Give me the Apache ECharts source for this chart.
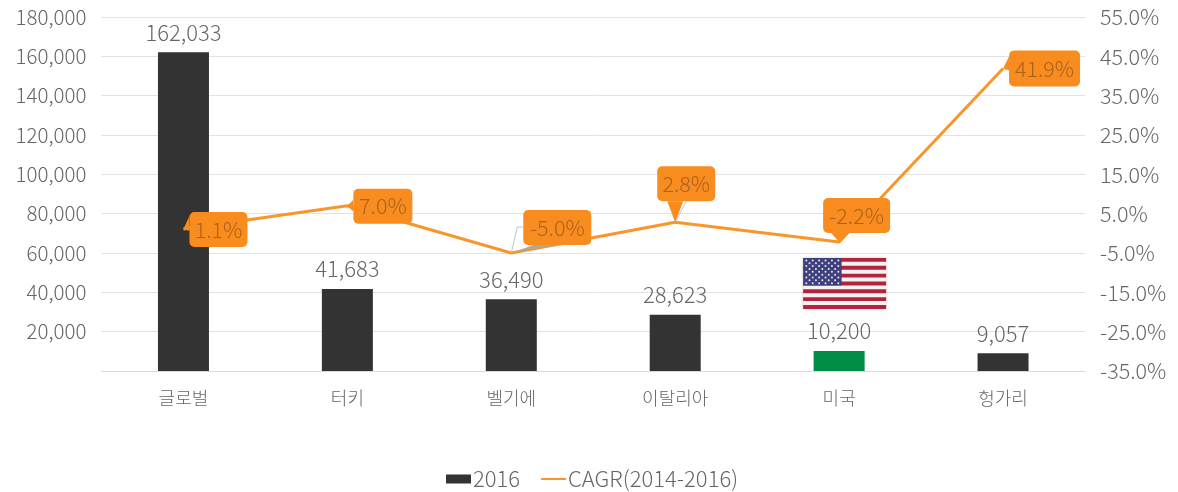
<!DOCTYPE html>
<html><head><meta charset="utf-8">
<style>html,body{margin:0;padding:0;background:#fff}#c{width:1178px;height:492px}</style>
<script src="https://cdn.jsdelivr.net/npm/echarts@6/dist/echarts.min.js"></script>
</head><body><div id="c"></div>
<script>
const categories = ['글로벌','터키','벨기에','이탈리아','미국','헝가리'];
const volume2016 = [162033,41683,36490,28623,10200,9057];
const cagr = [1.1,7.0,-5.0,2.8,-2.2,41.9];
const rightTicks = [-35,-25,-15,-5,5,15,25,35,45,55];
const barName = '2016';
const lineName = 'CAGR(2014-2016)';

// callout placement relative to the anchor point: box dx, dy, w, h, pointer base (two points)
const calloutLayout = [
  {box:[6,-17,58,35],  base:[[6,-13],[6,2]]},
  {box:[6,-17,59,35],  base:[[6,-6],[6,6]]},
  {box:[12,-43,68,35], base:[[22,-8],[50,-8]], leader:[[0,0],[6,-26],[12,-26]], gray:true},
  {box:[-18,-56,58,35],base:[[-8,-21],[8,-21]], leader:[[0,0],[11,-21]]},
  {box:[-16,-44,67,35],base:[[-8,-9],[9,-9]]},
  {box:[6,-18,71,36],  base:[[6,-12],[6,2]]}
];

const font = '"Noto Sans CJK KR","Noto Sans",sans-serif';
const textColor = '#666';
const orange = '#F98C1E';
const chart = echarts.init(document.getElementById('c'), null, {renderer:'canvas'});

function renderCallout(params, api){
  const i = api.value(0), v = api.value(1);
  const p = api.coord([i, v]);
  const L = calloutLayout[i];
  const [dx,dy,w,h] = L.box;
  const kids = [];
  if (L.leader) kids.push({type:'polyline', shape:{points:L.leader.map(q=>[p[0]+q[0],p[1]+q[1]])},
    style:{fill:null, stroke:'#BFC5CC', lineWidth:1}});
  const tri = [[p[0],p[1]]].concat(L.base.map(q=>[p[0]+q[0],p[1]+q[1]]));
  kids.push({type:'polygon', shape:{points:tri}, style:{fill:L.gray?'#B9A48E':orange}});
  kids.push({type:'rect', shape:{x:p[0]+dx,y:p[1]+dy,width:w,height:h,r:5}, style:{fill:orange}});
  kids.push({type:'text', style:{x:p[0]+dx+w/2,y:p[1]+dy+h/2,text:v.toFixed(1)+'%',align:'center',verticalAlign:'middle',
    fill:'#A8621F',font:'300 21.5px '+font}});
  return {type:'group', children:kids};
}

function renderFlag(params, api){
  const p = api.coord([api.value(0), api.value(1)]);
  const x = p[0]-36, w = 83, top = p[1]-93, sh = 51/13;
  const kids = [{type:'rect',shape:{x:x,y:top,width:w,height:51},style:{fill:'#F4F1EE',shadowBlur:3,shadowColor:'rgba(120,60,70,0.45)'}}];
  for(let s=0;s<13;s+=2) kids.push({type:'rect',shape:{x:x,y:top+s*sh,width:w,height:sh},style:{fill:'#B2233F'}});
  const cw = 38.5, ch = 7*sh;
  kids.push({type:'rect',shape:{x:x,y:top,width:cw,height:ch},style:{fill:'#3F3F7E'}});
  for(let r=0;r<9;r++){
    const n = r%2?5:6;
    for(let c=0;c<n;c++){
      kids.push({type:'circle',shape:{cx:x+(r%2?6.4:3.2)+c*6.4,cy:top+2.5+r*2.84,r:1},style:{fill:'#E8E8F2'}});
    }
  }
  return {type:'group',children:kids};
}

chart.setOption({
  backgroundColor:'#fff',
  animation:false,
  textStyle:{fontFamily:font},
  legend:{
    data:[{name:barName,icon:'rect'},{name:lineName,itemStyle:{opacity:0}}],
    left:441, top:463, itemWidth:25, itemHeight:9, itemGap:20,
    textStyle:{fontFamily:font,fontSize:22,fontWeight:300,color:textColor,padding:[0,0,0,-3]}
  },
  grid:{left:101.5,right:93,top:17,bottom:121},
  xAxis:{type:'category',data:categories,
    axisLine:{lineStyle:{color:'#D9D9D9'}},axisTick:{show:false},
    axisLabel:{fontFamily:font,fontSize:18,fontWeight:300,color:textColor,margin:18}},
  yAxis:[
    {type:'value',min:0,max:180000,interval:20000,
      axisLine:{show:false},axisTick:{show:false},
      splitLine:{lineStyle:{color:'#E2E2E2'}},
      axisLabel:{showMinLabel:false,fontFamily:font,fontSize:20.5,fontWeight:300,color:textColor,margin:15,
        formatter:v=>v.toLocaleString('en-US')}},
    {type:'value',min:-35,max:55,interval:5,position:'right',
      axisLine:{show:false},axisTick:{show:false},splitLine:{show:false},
      axisLabel:{fontFamily:font,fontSize:21.5,fontWeight:300,color:textColor,margin:15,
        formatter:v=>rightTicks.includes(v)?v.toFixed(1)+'%':''}}
  ],
  series:[
    {name:barName,type:'bar',barWidth:51,yAxisIndex:0,
      data:volume2016.map((v,i)=>({value:v,itemStyle:{color:categories[i]==='미국'?'#008C45':'#333333'}})),
      itemStyle:{color:'#333333'},
      label:{show:true,position:'top',distance:9,fontFamily:font,fontSize:22,fontWeight:300,color:textColor,
        formatter:p=>p.value.toLocaleString('en-US')}},
    {name:lineName,type:'line',yAxisIndex:1,data:cagr,symbol:'none',showSymbol:false,z:3,
      lineStyle:{color:'#F7962A',width:3},itemStyle:{color:'#F7962A'}},
    {type:'custom',name:'callouts',yAxisIndex:1,z:5,silent:true,
      data:cagr.map((v,i)=>[i,v]),renderItem:renderCallout,encode:{x:0,y:1}},
    {type:'custom',name:'flag',yAxisIndex:0,z:4,silent:true,
      data:[[4,volume2016[4]]],renderItem:renderFlag,encode:{x:0,y:1}}
  ]
});
</script></body></html>
